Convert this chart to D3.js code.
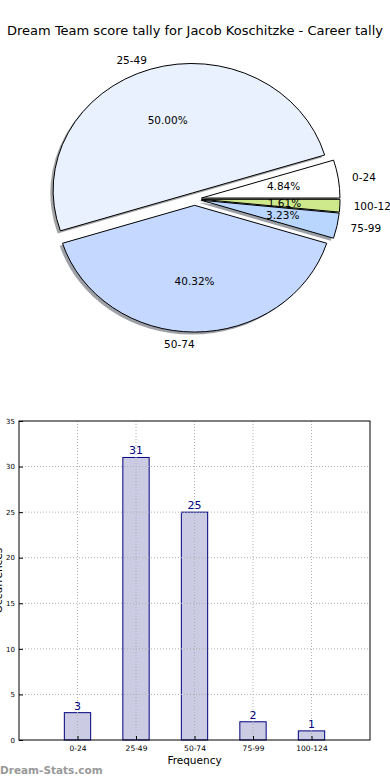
<!DOCTYPE html>
<meta charset="utf-8">
<style>
    body { margin: 0; background: #fff; }
    svg { display: block; font-family: "DejaVu Sans", sans-serif; }
    .grid line { stroke: #b0b0b0; stroke-dasharray: 1,2; }
</style>

<body>
    <script src="https://d3js.org/d3.v7.min.js"></script>
    <script>
        var title = "Dream Team score tally for Jacob Koschitzke - Career tally";
        var categories = ["0-24", "25-49", "50-74", "75-99", "100-124"];
        var counts = [3, 31, 25, 2, 1];
        var explode = [0.05, 0.05, 0.05, 0.05, 0.05];
        var pieColors = ["#ffffff", "#eaf1fe", "#c5d8ff", "#b8d6ff", "#cde98c"];
        var yTicks = [0, 5, 10, 15, 20, 25, 30, 35];
        var xLabel = "Frequency";
        var yLabel = "Occurrences";
        var watermark = "Dream-Stats.com";

        var width = 390,
            height = 780;

        var svg = d3.select("body").append("svg")
            .attr("width", width)
            .attr("height", height);

        svg.append("text")
            .attr("x", width / 2)
            .attr("y", 35)
            .attr("text-anchor", "middle")
            .style("font-size", "13px")
            .text(title);

        // ---- pie (matplotlib style: starts at 3 o'clock, counter clockwise, elliptical)
        var cx = 194.6, cy = 199, rx = 138.5, ry = 126.8;
        var total = d3.sum(counts);

        var pie = d3.pie().sort(null)
            .startAngle(Math.PI / 2)
            .endAngle(Math.PI / 2 - 2 * Math.PI);
        var arcs = pie(counts);
        var unitArc = d3.arc().innerRadius(0).outerRadius(1);

        function mid(d) { return (d.startAngle + d.endAngle) / 2; }
        function offset(d, i, k) {
            var a = mid(d);
            return [cx + k * rx * Math.sin(a), cy - k * ry * Math.cos(a)];
        }

        var gp = svg.append("g");

        // shadows first
        gp.selectAll(".shadow")
            .data(arcs)
            .enter().append("path")
            .attr("class", "shadow")
            .attr("d", unitArc)
            .attr("transform", function(d, i) {
                var p = offset(d, i, explode[i]);
                return "translate(" + (p[0] - 0.02 * rx) + "," + (p[1] + 0.02 * ry) + ") scale(" + rx + "," + ry + ")";
            })
            .attr("fill", function(d, i) {
                var c = d3.rgb(pieColors[i]);
                return d3.rgb(c.r * 0.3, c.g * 0.3, c.b * 0.3);
            })
            .attr("fill-opacity", 0.5);

        gp.selectAll(".wedge")
            .data(arcs)
            .enter().append("path")
            .attr("class", "wedge")
            .attr("d", unitArc)
            .attr("transform", function(d, i) {
                var p = offset(d, i, explode[i]);
                return "translate(" + p[0] + "," + p[1] + ") scale(" + rx + "," + ry + ")";
            })
            .attr("fill", function(d, i) { return pieColors[i]; })
            .attr("stroke", "#000")
            .attr("stroke-width", 1)
            .attr("vector-effect", "non-scaling-stroke");

        gp.selectAll(".plabel")
            .data(arcs)
            .enter().append("text")
            .attr("class", "plabel")
            .attr("x", function(d, i) { return offset(d, i, explode[i] + 1.1)[0]; })
            .attr("y", function(d, i) { return offset(d, i, explode[i] + 1.1)[1]; })
            .attr("dy", "0.35em")
            .attr("text-anchor", function(d) { return Math.sin(mid(d)) > 1e-9 ? "start" : "end"; })
            .style("font-size", "10.5px")
            .text(function(d, i) { return categories[i]; });

        gp.selectAll(".pct")
            .data(arcs)
            .enter().append("text")
            .attr("class", "pct")
            .attr("x", function(d, i) { return offset(d, i, explode[i] + 0.6)[0]; })
            .attr("y", function(d, i) { return offset(d, i, explode[i] + 0.6)[1]; })
            .attr("dy", "0.35em")
            .attr("text-anchor", "middle")
            .style("font-size", "10.5px")
            .text(function(d) { return (d.value / total * 100).toFixed(2) + "%"; });

        // ---- bar chart
        var axLeft = 19, axRight = 370, axTop = 421, axBottom = 740;

        var x = d3.scaleLinear().domain([0, categories.length + 1]).range([axLeft, axRight]);
        var y = d3.scaleLinear().domain([0, 35]).range([axBottom, axTop]);
        var barW = x(0.45) - x(0);

        var gb = svg.append("g");

        gb.selectAll(".bar")
            .data(counts)
            .enter().append("rect")
            .attr("class", "bar")
            .attr("x", function(d, i) { return x(i + 1) - barW / 2; })
            .attr("y", function(d) { return y(d); })
            .attr("width", barW)
            .attr("height", function(d) { return y(0) - y(d); })
            .attr("fill", "#cbcbe3")
            .attr("stroke", "#000080")
            .attr("stroke-width", 1);

        var grid = gb.append("g").attr("class", "grid");
        grid.selectAll(".gy")
            .data(yTicks.slice(1, -1))
            .enter().append("line")
            .attr("x1", axLeft).attr("x2", axRight)
            .attr("y1", function(d) { return y(d); })
            .attr("y2", function(d) { return y(d); });
        grid.selectAll(".gx")
            .data(categories)
            .enter().append("line")
            .attr("x1", function(d, i) { return x(i + 1); })
            .attr("x2", function(d, i) { return x(i + 1); })
            .attr("y1", axTop).attr("y2", axBottom);

        gb.selectAll(".val")
            .data(counts)
            .enter().append("text")
            .attr("class", "val")
            .attr("x", function(d, i) { return x(i + 1); })
            .attr("y", function(d) { return y(d) - 3; })
            .attr("text-anchor", "middle")
            .attr("fill", "#000080")
            .style("font-size", "11px")
            .text(function(d) { return d; });

        var yAxis = d3.axisLeft(y).tickValues(yTicks).tickSize(-4).tickPadding(4);
        gb.append("g")
            .attr("transform", "translate(" + axLeft + ",0)")
            .call(yAxis)
            .call(function(g) {
                g.select(".domain").remove();
                g.selectAll("text").style("font-size", "7px").attr("font-family", "DejaVu Sans");
            });

        var xAxis = d3.axisBottom(x)
            .tickValues(d3.range(1, categories.length + 1))
            .tickFormat(function(d) { return categories[d - 1]; })
            .tickSize(-4).tickPadding(6);
        gb.append("g")
            .attr("transform", "translate(0," + axBottom + ")")
            .call(xAxis)
            .call(function(g) {
                g.select(".domain").remove();
                g.selectAll("text").style("font-size", "7.5px").attr("font-family", "DejaVu Sans");
            });

        gb.append("rect")
            .attr("x", axLeft).attr("y", axTop)
            .attr("width", axRight - axLeft).attr("height", axBottom - axTop)
            .attr("fill", "none")
            .attr("stroke", "#000")
            .attr("stroke-width", 1);

        gb.append("text")
            .attr("x", (axLeft + axRight) / 2)
            .attr("y", 764)
            .attr("text-anchor", "middle")
            .style("font-size", "10.5px")
            .text(xLabel);

        gb.append("text")
            .attr("transform", "translate(2," + ((axTop + axBottom) / 2) + ") rotate(-90)")
            .attr("text-anchor", "middle")
            .style("font-size", "10.5px")
            .text(yLabel);

        svg.append("text")
            .attr("x", 0)
            .attr("y", 774)
            .attr("fill", "#999")
            .style("font-size", "10.5px")
            .style("font-weight", "bold")
            .text(watermark);
    </script>
</body>
